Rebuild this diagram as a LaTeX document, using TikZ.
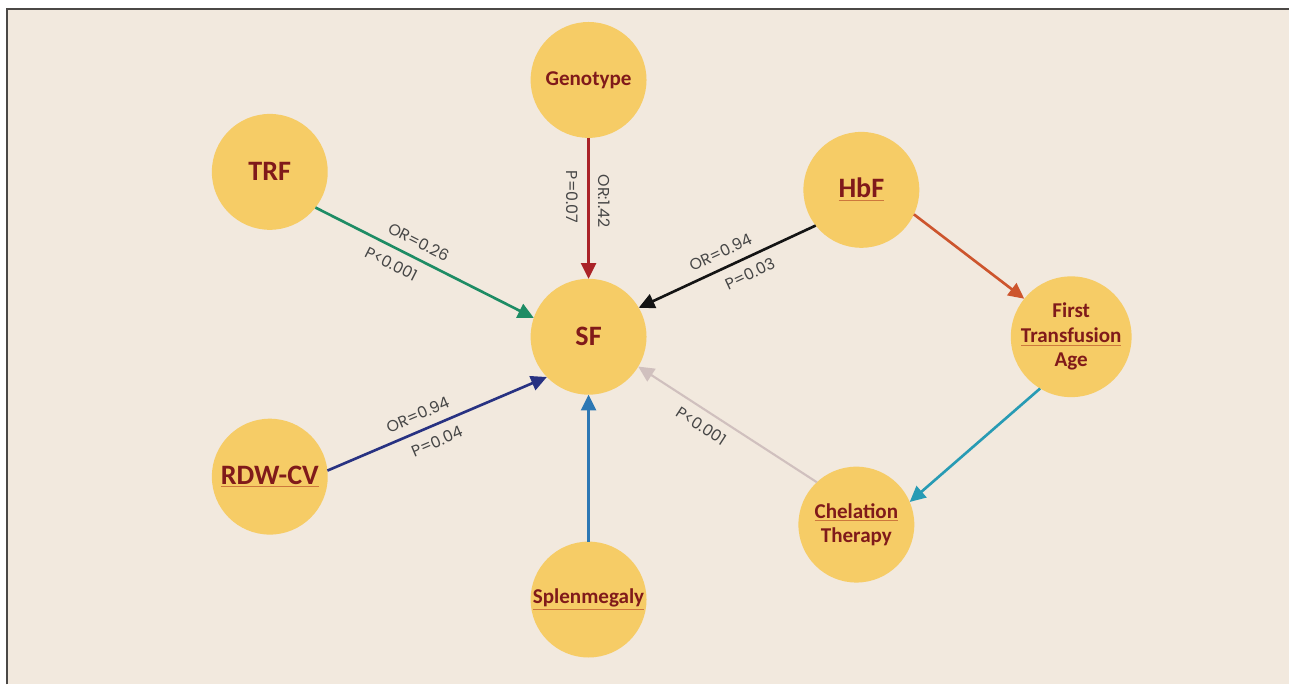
\documentclass[tikz,border=0pt]{standalone}
\usepackage{fontspec}
\setmainfont{Carlito}
\newfontfamily\lblfont{Poppins}
\usetikzlibrary{arrows.meta}

\definecolor{bgcol}{RGB}{242,233,222}
\definecolor{framecol}{RGB}{75,72,70}
\definecolor{disc}{RGB}{246,204,102}
\definecolor{txtred}{RGB}{128,26,26}
\definecolor{ulcol}{RGB}{205,120,60}
\definecolor{lblgray}{RGB}{70,70,70}
\definecolor{cgeno}{RGB}{170,35,40}
\definecolor{ctrf}{RGB}{30,140,100}
\definecolor{chbf}{RGB}{20,20,20}
\definecolor{cfta}{RGB}{205,85,45}
\definecolor{cchel}{RGB}{40,155,180}
\definecolor{cther}{RGB}{208,192,190}
\definecolor{crdw}{RGB}{40,50,130}
\definecolor{cspl}{RGB}{45,120,180}

% thin coloured underline under a word
\makeatletter
\newcommand\ulw[1]{{\color{ulcol}$\@@underline{\hbox{\color{txtred}#1}}$}}
\makeatother

\begin{document}
\begin{tikzpicture}[x=0.02cm, y=-0.02cm,
	factor/.style={circle, fill=disc, minimum size=2.32cm, inner sep=0pt, outer sep=0pt,
		text=txtred, align=center, font=\bfseries\fontsize{16}{18}\selectfont},
	small/.style={font=\bfseries\fontsize{12}{14}\selectfont},
	lbl/.style={font=\lblfont\fontsize{9}{10}\selectfont, text=lblgray, sloped, inner sep=5pt},
	link/.style={line width=1.5pt, -{Triangle[length=9pt,width=8.5pt]}}]

	% page and frame
	\fill[white] (0,0) rectangle (1290,685);
	\fill[bgcol] (7,9) rectangle (1290,685);
	\draw[framecol, line width=1.1pt] (7,685) -- (7,9) -- (1290,9);

	\node[factor, small] (geno) at (589,80) {Genotype};
	\node[factor] (trf) at (270,172) {TRF};
	\node[factor] (hbf) at (862,190) {\ulw{HbF}};
	\node[factor] (sf) at (589,337) {SF};
	\node[factor, small] (fta) at (1072,337) {First\\\ulw{Transfusion}\\Age};
	\node[factor] (rdw) at (270,477) {\ulw{RDW-CV}};
	\node[factor, small] (spl) at (589,600) {\ulw{Splenmegaly}};
	\node[factor, small] (chel) at (857,525) {\ulw{Chelation}\\Therapy};

	\draw[link, cgeno] (geno.-90) -- node[lbl, above, pos=0.45] {OR:1.42} node[lbl, below, pos=0.42] {P=0.07} (sf.90);
	\draw[link, ctrf] (trf.-38) -- node[lbl, above, pos=0.44] {OR=0.26} node[lbl, below, pos=0.38] {P<0.001} (sf.161);
	\draw[link, chbf] (hbf.-142) -- node[lbl, above, pos=0.5] {OR=0.94} node[lbl, below, pos=0.41] {P=0.03} (sf.30);
	\draw[link, cfta] (hbf.-25) -- (fta.141);
	\draw[link, cchel] (fta.-121) -- (chel.23);
	\draw[link, cther, line width=1.2pt] (chel.133) -- node[lbl, below, pos=0.6] {P<0.001} (sf.-31);
	\draw[link, crdw] (rdw.6) -- node[lbl, above, pos=0.44] {OR=0.94} node[lbl, below, pos=0.47] {P=0.04} (sf.224);
	\draw[link, cspl] (spl.90) -- (sf.-90);
\end{tikzpicture}
\end{document}
